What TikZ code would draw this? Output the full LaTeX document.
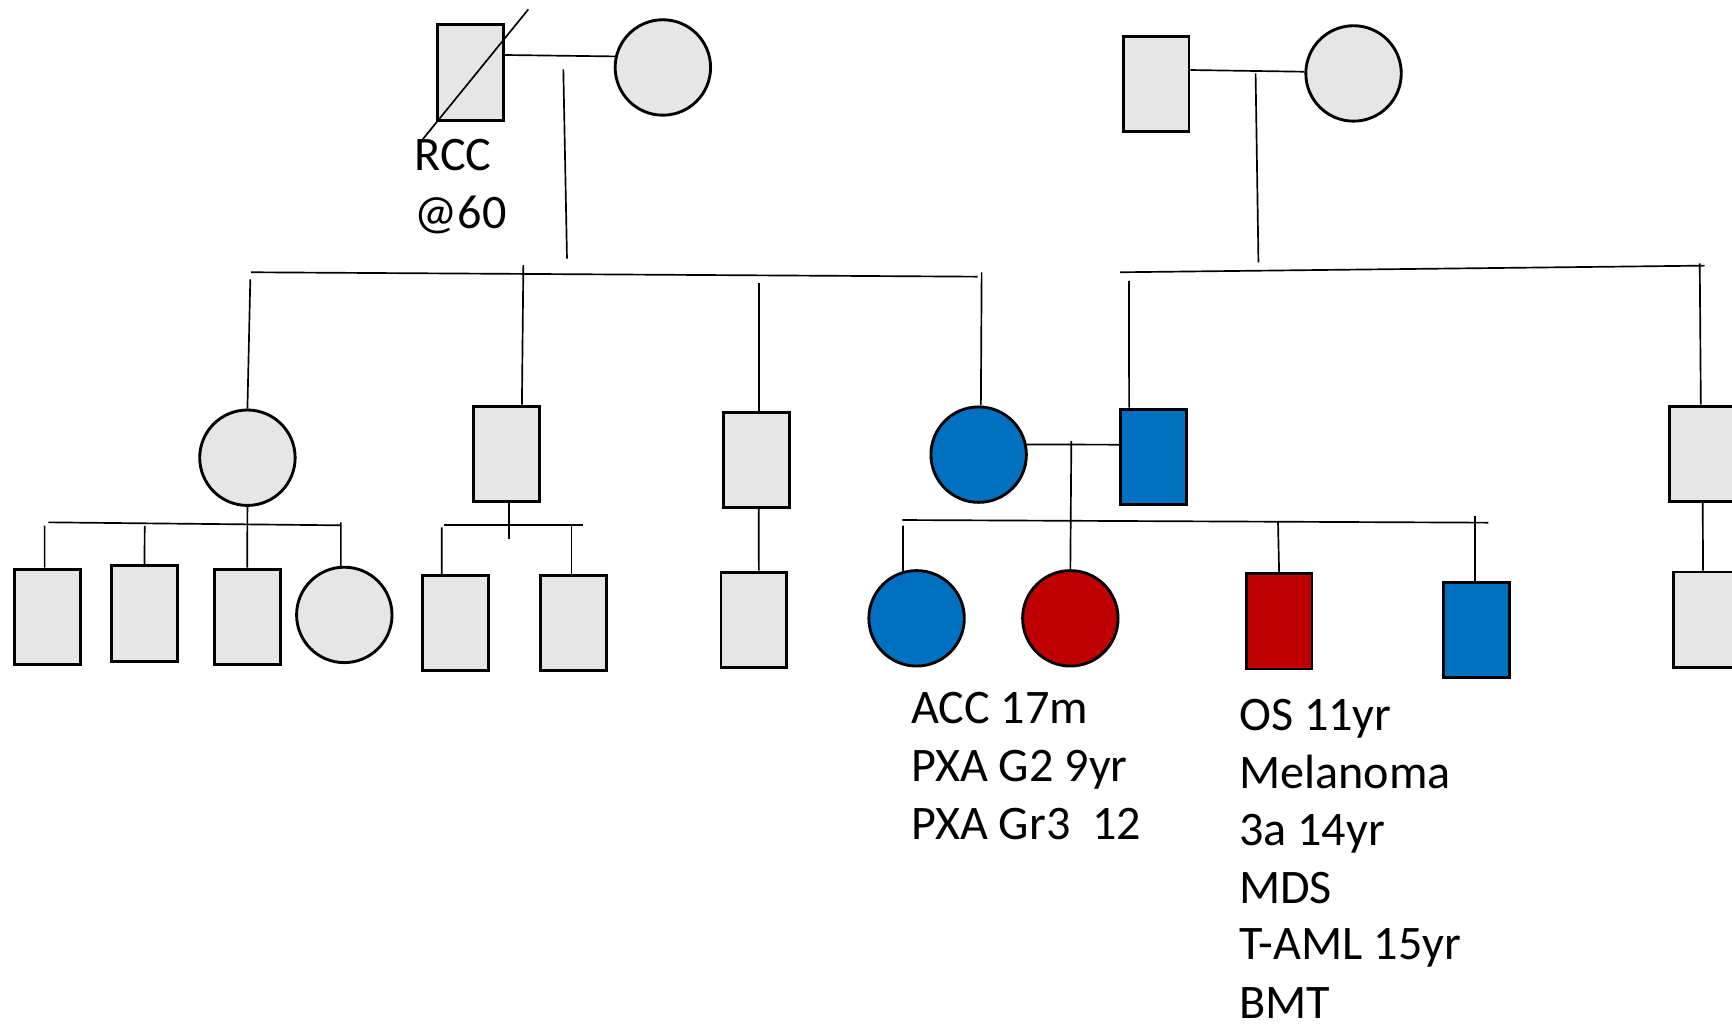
\documentclass[tikz,border=0pt]{standalone}
\usepackage{fontspec}
\setmainfont{Carlito}
\usetikzlibrary{calc}
\definecolor{pedgray}{HTML}{E6E6E6}
\definecolor{pedblue}{HTML}{0070C0}
\definecolor{pedred}{HTML}{C00000}
\tikzset{
  person/.style={draw=black, line width=0.65pt, inner sep=0pt},
  male/.style={person, rectangle, minimum width=14.9pt, minimum height=21.6pt},
  female/.style={person, circle, minimum size=21.6pt},
  unaffected/.style={fill=pedgray},
  affblue/.style={fill=pedblue},
  affred/.style={fill=pedred},
  link/.style={draw=black, line width=0.38pt},
  note/.style={anchor=base west, inner sep=0pt, font=\fontsize{10.9pt}{13pt}\selectfont}
}
\begin{document}
\begin{tikzpicture}[x=0.25pt, y=-0.25pt]
  \clip (0,0) rectangle (1568,927);
  \fill[white] (0,0) rectangle (1568,927);

  % ---- generation I, paternal side ----
  \node[male, unaffected] (gf) at (425.9,65.6) {};
  \node[female, unaffected] (gm) at (600.1,61.1) {};
  \coordinate (dA) at (478.3,8.5);
  \coordinate (dB) at (382,127);
  \draw[link] (dA) -- (dB);
  \draw[link] ($(gf.east)+(0,-15.8)$) -- (gm.167);
  \coordinate (gA) at (510,62.8);
  \coordinate (gB) at (513.3,234.2);
  \draw[link] (gA) -- (gB);
  \node[note] (rcc1) at (374.5,154.5) {RCC};
  \node[note] (rcc2) at (374.5,206.7) {@60};

  % ---- generation I, maternal side ----
  \node[male, unaffected] (rgf) at (1046.6,76.2) {};
  \node[female, unaffected] (rgm) at (1225.4,66.5) {};
  \draw[link] ($(rgf.east)+(0,-12.8)$) -- (rgm.178);
  \coordinate (hA) at (1136.7,66.4);
  \coordinate (hB) at (1139.3,237.5);
  \draw[link] (hA) -- (hB);

  % ---- generation II ----
  \node[female, unaffected] (a1) at (224,414.4) {};
  \node[male, unaffected] (a2) at (458.5,410.9) {};
  \node[male, unaffected] (a3) at (684.9,416.3) {};
  \node[female, affblue] (mom) at (886,411.6) {};
  \node[male, affblue] (dad) at (1044.2,413.6) {};
  \node[male, unaffected] (rsq) at (1541.5,410.9) {};

  % sibship of the paternal side
  \coordinate (sL1) at (227.2,246.5);
  \coordinate (sL2) at (885.1,250.5);
  \draw[link] (sL1) -- (sL2);
  \coordinate (ta1) at (226.6,252.9);
  \coordinate (ta2) at (473.8,240);
  \coordinate (ta3) at (687.4,256.2);
  \coordinate (tmom) at (888.7,246.5);
  \draw[link] (ta1) -- (a1.north);
  \draw[link] (ta2) -- ($(a2.north)+(14,0)$);
  \draw[link] (ta3) -- ($(a3.north)+(2.5,0)$);
  \draw[link] (tmom) -- ($(mom.north)+(2,0)$);

  % sibship of the maternal side
  \coordinate (sR1) at (1014.1,246.5);
  \coordinate (sR2) at (1543.2,240.5);
  \draw[link] (sR1) -- (sR2);
  \coordinate (tdad) at (1022.1,254.4);
  \coordinate (trsq) at (1538.8,238.4);
  \draw[link] (tdad) -- ($(dad.north)+(-22,0)$);
  \draw[link] (trsq) -- ($(rsq.north)+(-1.7,0)$);

  % ---- generation III ----
  \node[male, unaffected] (c1) at (43.1,558.5) {};
  \node[male, unaffected] (c2) at (130.8,555.4) {};
  \node[male, unaffected] (c3) at (223.8,558.5) {};
  \node[female, unaffected] (c4) at (311.7,556.7) {};
  \node[male, unaffected] (d1) at (412.3,564) {};
  \node[male, unaffected] (d2) at (518.9,564) {};
  \node[male, unaffected] (e1) at (682.5,561.2) {};
  \node[female, affblue] (p1) at (829.8,559.8) {};
  \node[female, affred] (p2) at (969,559.8) {};
  \node[male, affred] (p3) at (1158,562.5) {};
  \node[male, affblue] (p4) at (1336.8,570.2) {};
  \node[male, unaffected] (r1) at (1544.8,561.1) {};

  % children of a1
  \draw[link] (a1.south) -- (c3.north);
  \coordinate (bA1) at (43.7,472.9);
  \coordinate (bA2) at (308.6,475.6);
  \draw[link] (bA1) -- (bA2);
  \coordinate (tc1) at (40.4,475.9);
  \coordinate (tc2) at (131,476);
  \coordinate (tc4) at (308.6,473);
  \draw[link] (tc1) -- ($(c1.north)+(-2.7,0)$);
  \draw[link] (tc2) -- (c2.north);
  \draw[link] (tc4) -- (c4.94);

  % children of a2
  \coordinate (ua2) at (460.5,488.3);
  \draw[link] ($(a2.south)+(2,0)$) -- (ua2);
  \coordinate (bB1) at (402,475.6);
  \coordinate (bB2) at (527.5,475.6);
  \draw[link] (bB1) -- (bB2);
  \coordinate (td1) at (399.9,477.4);
  \coordinate (td2) at (517.5,474.1);
  \draw[link] (td1) -- ($(d1.north)+(-12.4,0)$);
  \draw[link] (td2) -- ($(d2.north)+(-1.4,0)$);

  % child of a3
  \draw[link] ($(a3.south)+(2,0)$) -- ($(e1.north)+(4.5,0)$);

  % children of the affected couple
  \draw[link] (mom.12) -- ($(dad.west)+(0,-11)$);
  \coordinate (uP) at (969.9,399.2);
  \draw[link] (uP) -- (p2.north);
  \coordinate (bP1) at (817,470.8);
  \coordinate (bP2) at (1347.5,473.2);
  \draw[link] (bP1) -- (bP2);
  \coordinate (tp1) at (817.5,475.9);
  \coordinate (tp3) at (1157,472.5);
  \coordinate (tp4) at (1335.5,466.8);
  \draw[link] (tp1) -- (p1.106);
  \draw[link] (tp3) -- (p3.north);
  \draw[link] (tp4) -- ($(p4.north)+(-1.3,0)$);

  % child of rsq
  \draw[link] (rsq.south) -- ($(r1.north)+(-3,0)$);

  % ---- case notes ----
  \node[note] (n1) at (824,655.4) {ACC 17m};
  \node[note] (n2) at (824,707.7) {PXA G2 9yr};
  \node[note] (n3) at (824,759.8) {PXA Gr3\ \ 12};
  \node[note] (m1) at (1121,661.5) {OS 11yr};
  \node[note] (m2) at (1121,713.7) {Melanoma};
  \node[note] (m3) at (1121,765.6) {3a 14yr};
  \node[note] (m4) at (1121,817.8) {MDS};
  \node[note] (m5) at (1121,869.1) {T-AML 15yr};
  \node[note] (m6) at (1121,921.9) {BMT};
\end{tikzpicture}
\end{document}
